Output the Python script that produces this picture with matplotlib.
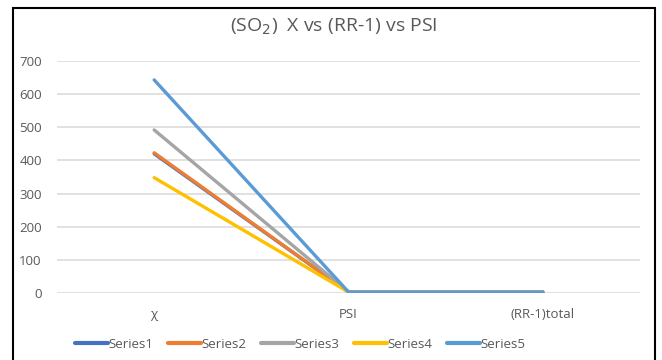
import matplotlib
matplotlib.use("Agg")
import matplotlib.pyplot as plt
from matplotlib.patches import Rectangle

categories = ["χ", "PSI", "(RR-1)total"]
series_names = ["Series1", "Series2", "Series3", "Series4", "Series5"]
series1 = [420, 3, 3]
series2 = [423, 3, 3]
series3 = [492, 3, 3]
series4 = [348, 3, 3]
series5 = [643, 3, 3]
yticks = [0, 100, 200, 300, 400, 500, 600, 700]

colors = ["#4472C4", "#ED7D31", "#A5A5A5", "#FFC000", "#5B9BD5"]
plt.rcParams['font.family'] = ['Open Sans', 'DejaVu Sans']

W, H = 662, 360
fig = plt.figure(figsize=(W / 100, H / 100), dpi=100)
ax = fig.add_axes([57 / W, 1 - 293 / H, (640 - 57) / W, (293 - 61) / H])

x = list(range(len(categories)))
for name, vals, c in zip(series_names, [series1, series2, series3, series4, series5], colors):
    ax.plot(x, vals, color=c, lw=2.4, label=name, solid_capstyle='round')

ax.set_xlim(-0.5, len(categories) - 0.5)
ax.set_ylim(0, 700)
ax.set_yticks(yticks)
ax.set_xticks(x)
ax.set_xticklabels(categories)
ax.grid(axis='y', color='#D9D9D9', lw=1.1)
ax.set_axisbelow(True)
for s in ax.spines.values():
    s.set_visible(False)
ax.tick_params(axis='both', length=0, colors='#595959', labelsize=9.5)
ax.tick_params(axis='y', pad=11)
ax.tick_params(axis='x', pad=11)

fig.text(334 / W, 1 - 27 / H, "(SO$_2$)  X vs (RR-1) vs PSI", ha='center', va='center',
         fontsize=14, color='#595959')

leg = fig.legend(loc='center', bbox_to_anchor=(300 / W, 1 - 344 / H), ncol=5, frameon=False,
                 fontsize=9.5, handlelength=2.5, columnspacing=1.1, handletextpad=0.05)
for t in leg.get_texts():
    t.set_color('#595959')
for h in leg.get_lines():
    h.set_linewidth(3)

fig.patches.append(Rectangle((13 / W, -0.1), (655 - 13) / W, 1.1 - 8 / H, transform=fig.transFigure,
                             fill=False, edgecolor='black', lw=1.5))

fig.savefig("out.png", dpi=100)
